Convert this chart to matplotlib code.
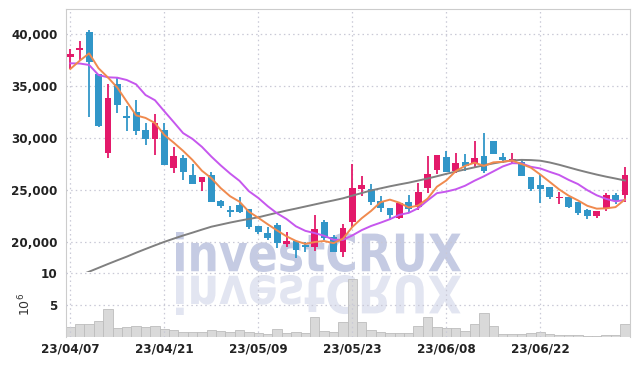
import matplotlib
matplotlib.use('Agg')
import matplotlib.pyplot as plt
import numpy as np
import pandas as pd
from matplotlib.textpath import TextPath
from matplotlib.patches import PathPatch
from matplotlib.font_manager import FontProperties
from matplotlib import font_manager as fm
from matplotlib.transforms import Affine2D

# ---------------- data ----------------
holidays = ['2023-05-01', '2023-05-05', '2023-05-29', '2023-06-06']
dates = [d for d in pd.bdate_range('2023-04-07', '2023-07-05') if d.strftime('%Y-%m-%d') not in holidays]

opens = [37850, 38500, 40240, 36160, 28590, 35220, 32140, 32520, 30780, 29950,
         30780, 27150, 28080, 26440, 25740, 26440, 23930, 23060, 23580, 23160,
         21490, 20840, 21620, 19810, 20070, 19690, 19520, 21910, 20460, 19040,
         21940, 25120, 25090, 23930, 23260, 22260, 23810, 23380, 25220, 26920,
         28210, 26860, 27700, 27630, 28270, 29720, 28180, 27790, 27670, 26280,
         25510, 25280, 24220, 24320, 23870, 23060, 22510, 23230, 24510, 24480]
highs = [38630, 39370, 40430, 36200, 35220, 35770, 33100, 33680, 31430, 32300,
         31430, 29170, 28370, 27470, 26250, 26760, 24000, 23450, 24350, 23200,
         21500, 21400, 21840, 20970, 20100, 19950, 22610, 22100, 20650, 21740,
         27480, 26350, 25540, 24420, 23300, 23710, 24510, 25700, 28270, 28370,
         28790, 28600, 28470, 29750, 30470, 29720, 28600, 28600, 27900, 26280,
         26440, 25280, 24770, 24320, 23870, 23160, 22970, 24700, 24700, 27190]
lows = [36670, 37540, 32070, 31050, 28110, 32390, 30660, 30270, 29310, 28370,
        27440, 26660, 25960, 25540, 24930, 23870, 23230, 22360, 22750, 21260,
        20780, 20170, 19370, 19520, 18460, 19040, 19140, 20170, 19000, 18500,
        21450, 24390, 23550, 22900, 22100, 22160, 22900, 23060, 24740, 26510,
        26730, 26610, 26820, 27240, 26610, 28440, 27570, 27570, 26380, 24920,
        23710, 24100, 23670, 23290, 22600, 22200, 22270, 23000, 23660, 23870]
closes = [38120, 38730, 37380, 31170, 33870, 33230, 31980, 30720, 29950, 31430,
          27440, 28270, 26760, 25540, 26250, 23870, 23450, 22840, 22900, 21420,
          20940, 20330, 19850, 20070, 19200, 19520, 21230, 20330, 19040, 21330,
          25190, 25450, 23870, 23230, 22580, 23710, 23130, 24800, 26540, 28370,
          26730, 27630, 27340, 28080, 26820, 28440, 27890, 27960, 26380, 25060,
          25120, 24350, 24350, 23380, 22750, 22510, 22970, 24510, 23960, 26440]
volumes = [1.55, 2.0, 2.0, 2.48, 4.33, 1.39, 1.55, 1.70, 1.55, 1.70,
           1.24, 1.08, 0.77, 0.77, 0.77, 1.08, 0.93, 0.77, 1.08, 0.77,
           0.62, 0.46, 1.24, 0.62, 0.77, 0.62, 3.1, 0.98, 0.82, 2.37,
           9.13, 2.37, 1.13, 0.82, 0.67, 0.67, 0.67, 1.75, 3.1, 1.6,
           1.44, 1.44, 0.98, 2.06, 3.72, 1.75, 0.51, 0.51, 0.51, 0.67,
           0.82, 0.51, 0.36, 0.36, 0.36, 0.2, 0.2, 0.36, 0.36, 2.06]
# moving-average values that depend on days before the window
ma5_head = [36670, 37470, 38180, 36740]
ma10_head = [37220, 37200, 37060, 36090, 35870, 35830, 35610, 35190, 34160]
ma60 = [16400, 16750, 17110, 17480, 17850, 18210, 18560, 18940, 19300, 19650,
        19990, 20300, 20600, 20880, 21170, 21450, 21650, 21850, 22030, 22200,
        22360, 22580, 22800, 23010, 23200, 23400, 23600, 23800, 23990, 24190,
        24450, 24700, 24950, 25150, 25350, 25530, 25700, 25900, 26100, 26320,
        26550, 26770, 26980, 27180, 27380, 27560, 27720, 27850, 27900, 27880,
        27820, 27650, 27430, 27180, 26930, 26700, 26480, 26280, 26100, 25910]
tick_dates = ['2023-04-07', '2023-04-21', '2023-05-09', '2023-05-23', '2023-06-08', '2023-06-22']
tick_labels = ['23/04/07', '23/04/21', '23/05/09', '23/05/23', '23/06/08', '23/06/22']
price_ticks = [20000, 25000, 30000, 35000, 40000]
price_labels = ['20,000', '25,000', '30,000', '35,000', '40,000']

# ---------------- derived ----------------
ma5 = pd.Series(closes, dtype=float).rolling(5).mean().values
ma5[:4] = ma5_head
ma10 = pd.Series(closes, dtype=float).rolling(10).mean().values
ma10[:9] = ma10_head
x = np.arange(len(dates))
date_strs = [d.strftime('%Y-%m-%d') for d in dates]
tick_pos = [date_strs.index(t) for t in tick_dates]

# pick a narrow bold font if available
def pick_font():
    prefs = ['LiberationSansNarrow-Bold', 'DejaVuSansCondensed-Bold', 'OpenSans_Condensed-Bold',
             'OpenSansCondensed-Bold', 'RobotoCondensed-Bold', 'NotoSans-CondensedBold']
    files = {f.fname.split('/')[-1].rsplit('.', 1)[0]: f.fname for f in fm.fontManager.ttflist}
    for p in prefs:
        for k, v in files.items():
            if k.replace(' ', '') == p:
                return FontProperties(fname=v, size=9.5), True
    for k, v in files.items():
        kl = k.lower()
        if ('condensed' in kl or 'narrow' in kl) and 'bold' in kl and 'semi' not in kl and 'extra' not in kl and 'italic' not in kl:
            return FontProperties(fname=v, size=9.5), True
    return FontProperties(family='DejaVu Sans', weight='bold', size=8), False

tfp, narrow = pick_font()

UP = '#e3196a'
DOWN = '#3196c8'
GRID = '#c9c9d6'

fig = plt.figure(figsize=(6.39, 3.66), dpi=100)
fig.patch.set_facecolor('white')
ax = fig.add_axes([66/639, 1-272/366, (630-66)/639, (272-9)/366])
axv = fig.add_axes([66/639, 1-337.3/366, (630-66)/639, (337.3-272)/366], sharex=ax)
for a in (ax, axv):
    a.set_facecolor('none')

# watermark
fp = FontProperties(family='DejaVu Sans', weight='bold')
tp = TextPath((0, 0), 'investCRUX', size=100, prop=fp)
ext = tp.get_extents()
sx = 285 / ext.width
sy = 40 / ext.height
base_x, base_y = 176, 366 - 272
t_main = Affine2D().translate(-ext.x0, -ext.y0).scale(sx, sy).translate(base_x, base_y).scale(1/100) + fig.dpi_scale_trans
t_refl = Affine2D().translate(-ext.x0, -ext.y0).scale(sx, -sy).translate(base_x, base_y - 3).scale(1/100) + fig.dpi_scale_trans
fig.patches.append(PathPatch(tp, transform=t_main, facecolor='#c5cbe3', edgecolor='none', zorder=-5))
fig.patches.append(PathPatch(tp, transform=t_refl, facecolor='#e2e5f1', edgecolor='none', zorder=-5))

# candles
for i in x:
    o, h, l, c = opens[i], highs[i], lows[i], closes[i]
    col = UP if c >= o else DOWN
    ax.vlines(i, l, h, color=col, linewidth=1.3, zorder=2)
    bottom = min(o, c)
    height = max(abs(c - o), 60)
    ax.bar(i, height, bottom=bottom, width=0.72, color=col, linewidth=0, zorder=3)

ax.plot(x, ma60, color='#808080', linewidth=1.4, zorder=4)
ax.plot(x, ma10, color='#c657ee', linewidth=1.4, zorder=4)
ax.plot(x, ma5, color='#f08a4e', linewidth=1.4, zorder=5)

ax.set_xlim(-0.46, 59.54)
ax.set_ylim(17080, 42460)
ax.set_yticks(price_ticks)
ax.set_yticklabels(price_labels, fontproperties=tfp)
ax.tick_params(axis='y', length=0, pad=6, colors='#222222')
ax.tick_params(axis='x', length=0, labelbottom=False)
ax.set_xticks(tick_pos)
ax.grid(True, linestyle=(0, (1.2, 2.5)), color=GRID, linewidth=0.9)
for s in ['left', 'top', 'right']:
    ax.spines[s].set_color('#cccccc')
ax.spines['bottom'].set_visible(False)

# volume
axv.bar(x, volumes, width=1.0, color='#d9d9d9', edgecolor='#bdbdbd', linewidth=0.6, zorder=2)
axv.set_ylim(0, 10.15)
axv.set_yticks([5, 10])
axv.set_yticklabels(['5', '10'], fontproperties=tfp)
axv.tick_params(axis='y', length=0, pad=6, colors='#222222')
axv.set_xticks(tick_pos)
axv.set_xticklabels(tick_labels, fontproperties=tfp)
axv.tick_params(axis='x', length=0, pad=4, colors='#222222')
axv.grid(True, linestyle=(0, (1.2, 2.5)), color=GRID, linewidth=0.9)
axv.set_axisbelow(False)
for s in ['left', 'right']:
    axv.spines[s].set_color('#cccccc')
axv.spines['top'].set_visible(False)
axv.spines['bottom'].set_visible(False)
axv.set_ylabel(r'$10^{6}$', fontsize=9, color='#333333')
axv.yaxis.set_label_coords(-(66 - 33) / 564, 0.5)

fig.savefig('out.png', dpi=100)
